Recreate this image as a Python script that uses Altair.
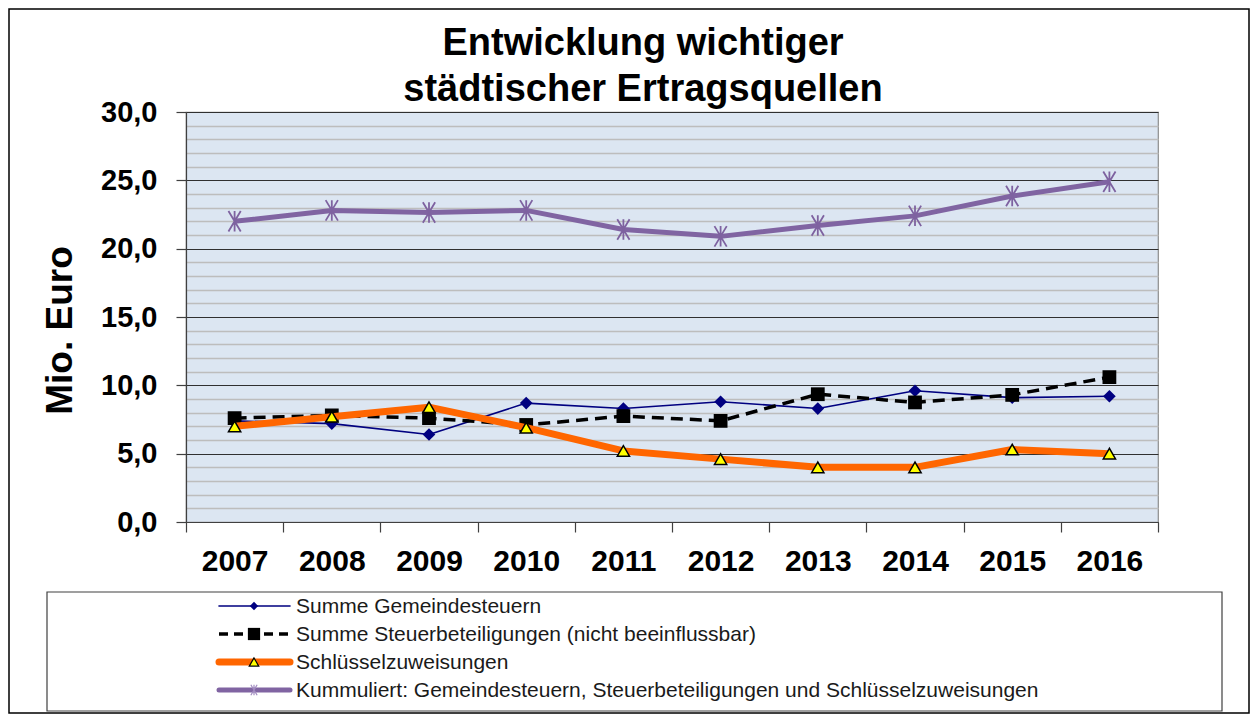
import altair as alt
import pandas as pd

# ---- data ----
years = ["2007", "2008", "2009", "2010", "2011", "2012", "2013", "2014", "2015", "2016"]
gemeindesteuern = [7.4, 7.2, 6.4, 8.7, 8.3, 8.8, 8.3, 9.6, 9.1, 9.2]
steuerbeteiligungen = [7.6, 7.8, 7.6, 7.1, 7.75, 7.4, 9.35, 8.75, 9.3, 10.6]
schluesselzuweisungen = [7.0, 7.7, 8.4, 6.9, 5.2, 4.6, 4.0, 4.0, 5.3, 5.0]
kummuliert = [22.0, 22.8, 22.65, 22.8, 21.4, 20.9, 21.7, 22.4, 23.85, 24.9]

series_names = [
    "Summe Gemeindesteuern",
    "Summe Steuerbeteiligungen (nicht beeinflussbar)",
    "Schlüsselzuweisungen",
    "Kummuliert: Gemeindesteuern, Steuerbeteiligungen und Schlüsselzuweisungen",
]
series_values = [gemeindesteuern, steuerbeteiligungen, schluesselzuweisungen, kummuliert]

title_lines = ["Entwicklung wichtiger", "städtischer Ertragsquellen"]
y_title = "Mio. Euro"

rows = []
for name, vals in zip(series_names, series_values):
    for yr, v in zip(years, vals):
        rows.append({"year": yr, "series": name, "value": v})
df = pd.DataFrame(rows)
df_leg = pd.DataFrame({"series": series_names})
df_title = pd.DataFrame({"line": title_lines, "idx": list(range(len(title_lines)))})

FONT = "Liberation Sans"
X_PATH = "M-0.6,-1L0.6,1M-0.6,1L0.6,-1M0,-1L0,1"

styles = [
    dict(color="#000080", width=1.6, dash=None,
         point=dict(shape="diamond", filled=True, color="#000080", size=160, opacity=1),
         legpoint=dict(shape="diamond", filled=True, color="#000080", size=70, opacity=1)),
    dict(color="#000000", width=3.5, dash=[12, 7],
         point=dict(shape="square", filled=True, color="#000000", size=190, opacity=1),
         legpoint=dict(shape="square", filled=True, color="#000000", size=150, opacity=1)),
    dict(color="#FF6600", width=7, dash=None,
         point=dict(shape="triangle-up", filled=True, fill="#FFFF00", stroke="#000000",
                    strokeWidth=1.5, size=150, opacity=1),
         legpoint=dict(shape="triangle-up", filled=True, fill="#FFFF00", stroke="#000000",
                       strokeWidth=1.2, size=90, opacity=1)),
    dict(color="#8064A2", width=5, dash=None,
         point=dict(shape=X_PATH, filled=False, color="#7E62A0", strokeWidth=1.8, size=420, opacity=1),
         legpoint=dict(shape=X_PATH, filled=False, color="#A18BC0", strokeWidth=1.2, size=110, opacity=1)),
]

x_enc = alt.X(
    "year:O",
    bandPosition=0.5,
    scale=alt.Scale(type="band", domain=years, paddingInner=0, paddingOuter=0),
    axis=alt.Axis(
        title=None, labelAngle=0, tickBand="extent", grid=False,
        labelFont=FONT, labelFontSize=30, labelFontWeight="bold", labelColor="#000000",
        labelPadding=14, tickSize=10, tickColor="#404040", domainColor="#404040",
        tickWidth=1.2, domainWidth=1.2,
    ),
)

y_enc = alt.Y(
    "value:Q",
    scale=alt.Scale(domain=[0, 30], nice=False, zero=True),
    axis=alt.Axis(
        title=y_title, values=list(range(0, 31)),
        labelExpr="datum.value % 5 === 0 ? replace(format(datum.value, '.1f'), '.', ',') : ''",
        labelFont=FONT, labelFontSize=29, labelFontWeight="bold", labelColor="#000000",
        labelPadding=19, tickSize=10, tickColor="#404040", domainColor="#404040",
        tickWidth=1.2, domainWidth=1.2,
        tickOpacity={"condition": {"test": "datum.value % 5 === 0", "value": 1}, "value": 0},
        grid=True,
        gridColor={"condition": {"test": "datum.value % 5 === 0", "value": "#303030"}, "value": "#BDBDBD"},
        gridWidth={"condition": {"test": "datum.value % 5 === 0", "value": 1.2}, "value": 1.6},
        titleFont=FONT, titleFontSize=37, titleFontWeight="bold", titleColor="#000000",
        titleAngle=-90, titleX=-126, titleY=218, titleAlign="center", titleBaseline="middle",
    ),
)

layers = []

# outer frame
layers.append(
    alt.Chart(df_leg.head(1)).mark_rect(fill="#FFFFFF", fillOpacity=0, stroke="#000000", strokeWidth=1.5).encode(
        x=alt.value(-177), x2=alt.value(1063), y=alt.value(-103), y2=alt.value(601)
    )
)
# legend frame
layers.append(
    alt.Chart(df_leg.head(1)).mark_rect(fill="#FFFFFF", stroke="#404040", strokeWidth=1.2).encode(
        x=alt.value(-139), x2=alt.value(1036), y=alt.value(480), y2=alt.value(599)
    )
)

# title as text
title_base = [-57, -11]
for i, tl in enumerate(title_lines):
    layers.append(
        alt.Chart(df_title).transform_filter(alt.datum.idx == i).mark_text(
            align="center", baseline="alphabetic", font=FONT, fontSize=38, fontWeight="bold", color="#000000"
        ).encode(x=alt.value(457), y=alt.value(title_base[i]), text="line:N")
    )

for name, st in zip(series_names, styles):
    base = alt.Chart(df).transform_filter(alt.datum.series == name)
    line_kw = dict(color=st["color"], strokeWidth=st["width"], strokeJoin="round", strokeCap="butt")
    if st["dash"]:
        line_kw["strokeDash"] = st["dash"]
    layers.append(base.mark_line(**line_kw).encode(x=x_enc, y=y_enc))
    layers.append(base.mark_point(**st["point"]).encode(x=x_enc, y=y_enc))

# legend entries
leg_y0 = 494
leg_step = 28
for i, (name, st) in enumerate(zip(series_names, styles)):
    yrow = leg_y0 + i * leg_step
    lb = alt.Chart(df_leg).transform_filter(alt.datum.series == name)
    rule_kw = dict(color=st["color"], strokeWidth=st["width"], strokeCap="butt" if st["dash"] else "round")
    if st["dash"]:
        rule_kw["strokeDash"] = [9, 6]
    layers.append(lb.mark_rule(**rule_kw).encode(x=alt.value(33), x2=alt.value(104), y=alt.value(yrow)))
    layers.append(lb.mark_point(**st["legpoint"]).encode(x=alt.value(68), y=alt.value(yrow)))
    layers.append(
        lb.mark_text(align="left", baseline="middle", font=FONT, fontSize=21, color="#1a1a1a").encode(
            x=alt.value(110), y=alt.value(yrow + 1), text="series:N"
        )
    )

chart = alt.layer(*layers).properties(
    width=972,
    height=410,
    autosize=alt.AutoSizeParams(type="none"),
    padding={"left": 178, "top": 104, "right": 92, "bottom": 192},
).configure(
    background="#FFFFFF"
).configure_view(
    fill="#DCE6F2", stroke="#8C8C8C", strokeWidth=1.2
)

chart.save("out.html", embed_options={"renderer": "svg", "actions": False})
